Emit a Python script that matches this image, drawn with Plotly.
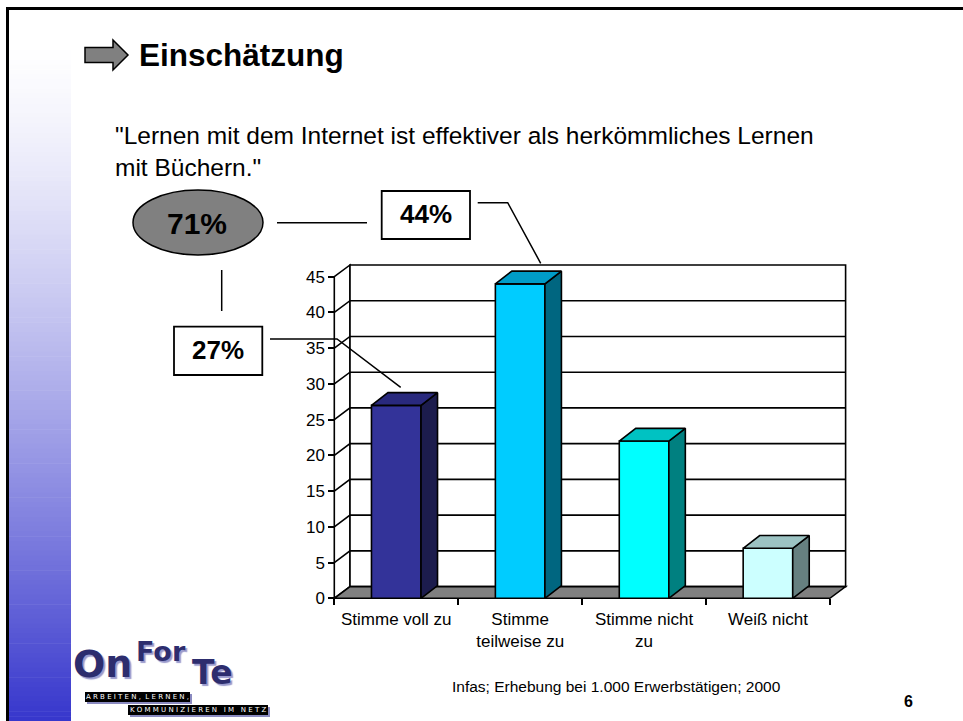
import plotly.graph_objects as go

W, H = 963, 721

# ---------------- data ----------------
categories = ["Stimme voll zu", "Stimme<br>teilweise zu", "Stimme nicht<br>zu", "Weiß nicht"]
values = [27, 44, 22, 7]
front_colors = ["#333399", "#00CCFF", "#00FFFF", "#CCFFFF"]
top_colors = ["#29297D", "#009CC8", "#00C2C2", "#9CC3C3"]
side_colors = ["#1C1C4D", "#006680", "#008080", "#668080"]
y_ticks = [0, 5, 10, 15, 20, 25, 30, 35, 40, 45]
y_max = 45
total_label = "71%"
callout_top = "44%"
callout_left = "27%"
title = "Einschätzung"
quote_line1 = "\"Lernen mit dem Internet ist effektiver als herkömmliches Lernen"
quote_line2 = "mit Büchern.\""
source = "Infas; Erhebung bei 1.000 Erwerbstätigen; 2000"
page_no = "6"

FONT = "Liberation Sans, Arial, sans-serif"

# ---------------- geometry (pixel layout of the 3D plot) ----------------
X0, Y0 = 334.3, 598.3      # pixel of category -0.5 / value 0 (front plane)
PXC, PXU = 123.9, 7.147    # pixels per category / per value unit
xr = [-0.5 - X0 / PXC, -0.5 + (W - X0) / PXC]
yr = [-(H - Y0) / PXU, Y0 / PXU]
DXW, DYW = 15.7 / PXC, 11.7 / PXU   # wall depth
DXB, DYB = 16.5 / PXC, 12.7 / PXU   # bar depth
BW = 0.40
n = len(categories)
xl, xh = -0.5, n - 0.5


def px(x):
    return x / W


def py(y):
    return 1 - y / H


shapes = []

# slide gradient band on the left
N = 140
ytop, ybot = 40, H
c0 = (255, 255, 255)
c1 = (54, 54, 204)
for i in range(N):
    t = ((i + 0.5) / N) ** 1.35
    col = tuple(int(round(c0[k] + (c1[k] - c0[k]) * t)) for k in range(3))
    y_a = ytop + (ybot - ytop) * i / N
    y_b = ytop + (ybot - ytop) * (i + 1) / N + 0.6
    shapes.append(dict(type="rect", xref="paper", yref="paper", layer="below",
                       x0=px(9), x1=px(71), y0=py(y_a), y1=py(min(y_b, H)),
                       line=dict(width=0), fillcolor="rgb(%d,%d,%d)" % col))
# slide border
shapes.append(dict(type="line", xref="paper", yref="paper", x0=px(6), x1=px(W), y0=py(8.5), y1=py(8.5),
                   line=dict(color="black", width=3)))
shapes.append(dict(type="line", xref="paper", yref="paper", x0=px(7.5), x1=px(7.5), y0=py(7), y1=py(H),
                   line=dict(color="black", width=3)))

# 3D chart walls (data coordinates)
LW = 1.6
shapes.append(dict(type="path", xref="x", yref="y", layer="below",
                   path=f"M {xl},0 L {xl},{y_max} L {xl+DXW},{y_max+DYW} L {xl+DXW},{DYW} Z",
                   fillcolor="white", line=dict(color="black", width=LW)))
shapes.append(dict(type="rect", xref="x", yref="y", layer="below",
                   x0=xl + DXW, x1=xh + DXW, y0=DYW, y1=y_max + DYW,
                   fillcolor="white", line=dict(color="black", width=LW)))
for v in y_ticks[1:-1]:
    shapes.append(dict(type="path", xref="x", yref="y", layer="below",
                       path=f"M {xl},{v} L {xl+DXW},{v+DYW} L {xh+DXW},{v+DYW}",
                       line=dict(color="black", width=LW)))
shapes.append(dict(type="path", xref="x", yref="y", layer="below",
                   path=f"M {xl},0 L {xh},0 L {xh+DXW},{DYW} L {xl+DXW},{DYW} Z",
                   fillcolor="#808080", line=dict(color="black", width=LW)))

# callout decorations
def pline(pts, w=1.5):
    p = "M " + " L ".join(f"{px(x)},{py(y)}" for x, y in pts)
    shapes.append(dict(type="path", xref="paper", yref="paper", path=p,
                       line=dict(color="black", width=w)))

shapes.append(dict(type="circle", xref="paper", yref="paper", x0=px(133), x1=px(263), y0=py(255), y1=py(190),
                   fillcolor="#808080", line=dict(color="black", width=1.5)))
shapes.append(dict(type="rect", xref="paper", yref="paper", x0=px(381.7), x1=px(470), y0=py(239), y1=py(191),
                   fillcolor="white", line=dict(color="black", width=1.8)))
shapes.append(dict(type="rect", xref="paper", yref="paper", x0=px(174), x1=px(262.3), y0=py(375), y1=py(326.7),
                   fillcolor="white", line=dict(color="black", width=1.8)))
pline([(277, 222.7), (367, 222.7)])
pline([(477.7, 202.7), (507.7, 202.7), (540.7, 263.3)])
pline([(221.7, 270), (221.7, 311)])
pline([(270, 339), (337, 339), (400.7, 387.3)])

# title arrow
arrow = [(85, 47.5), (113, 47.5), (113, 40), (128, 55), (113, 70), (113, 62.5), (85, 62.5)]
shapes.append(dict(type="path", xref="paper", yref="paper",
                   path="M " + " L ".join(f"{px(x)},{py(y)}" for x, y in arrow) + " Z",
                   fillcolor="#808080", line=dict(color="black", width=1.5)))

# logo bands
shapes.append(dict(type="rect", xref="paper", yref="paper", x0=px(87), x1=px(192), y0=py(704), y1=py(694),
                   fillcolor="#8a8ac0", line=dict(width=0)))
shapes.append(dict(type="rect", xref="paper", yref="paper", x0=px(85), x1=px(190), y0=py(702), y1=py(692),
                   fillcolor="black", line=dict(width=0)))
shapes.append(dict(type="rect", xref="paper", yref="paper", x0=px(130), x1=px(270), y0=py(717), y1=py(707),
                   fillcolor="#8a8ac0", line=dict(width=0)))
shapes.append(dict(type="rect", xref="paper", yref="paper", x0=px(128), x1=px(268), y0=py(715), y1=py(705),
                   fillcolor="black", line=dict(width=0)))

fig = go.Figure()

# front faces of bars
fig.add_trace(go.Bar(x=list(range(n)), y=values, width=BW,
                     marker=dict(color=front_colors, line=dict(color="black", width=LW)),
                     hoverinfo="skip"))
# side and top faces
for i, v in enumerate(values):
    r = i + BW / 2
    l = i - BW / 2
    fig.add_trace(go.Scatter(x=[r, r + DXB, r + DXB, r, r], y=[0, DYB, v + DYB, v, 0],
                             mode="lines", fill="toself", fillcolor=side_colors[i],
                             line=dict(color="black", width=LW), hoverinfo="skip"))
    fig.add_trace(go.Scatter(x=[l, l + DXB, r + DXB, r, l], y=[v, v + DYB, v + DYB, v, v],
                             mode="lines", fill="toself", fillcolor=top_colors[i],
                             line=dict(color="black", width=LW), hoverinfo="skip"))

ann = []


def text(x, y, s, size, bold=False, anchor="left", color="black", family=FONT, shadow=None):
    f = dict(family=family, size=size, color=color)
    if shadow:
        f["shadow"] = shadow
    ann.append(dict(xref="paper", yref="paper", x=px(x), y=py(y), xanchor=anchor, yanchor="middle",
                    text=("<b>%s</b>" % s) if bold else s, showarrow=False, font=f))


text(137, 55, title, 31.5, bold=True)
text(113, 135.5, quote_line1, 24.5)
text(113, 167, quote_line2, 24.5)
text(197, 223.3, total_label, 30, bold=True, anchor="center")
text(426, 214, callout_top, 26, bold=True, anchor="center")
text(218.3, 350, callout_left, 26, bold=True, anchor="center")
text(616, 686, source, 15.5, anchor="center")
text(908, 701, page_no, 16, bold=True, anchor="center")

# logo
LOGO = "DejaVu Sans, sans-serif"
sh = "2px 2px 1px #9a9acc"
text(102.5, 664, "On", 38, bold=True, anchor="center", color="#2d2d6e", family=LOGO, shadow=sh)
text(161, 651, "For", 27, bold=True, anchor="center", color="#2d2d6e", family=LOGO, shadow=sh)
text(212.5, 672, "Te", 33, bold=True, anchor="center", color="#2d2d6e", family=LOGO, shadow=sh)
text(137.5, 697, "A R B E I T E N ,  L E R N E N ,", 7, anchor="center", color="white", family=LOGO)
text(198, 710, "K O M M U N I Z I E R E N   I M   N E T Z", 7, anchor="center", color="white", family=LOGO)

fig.update_layout(
    width=W, height=H,
    margin=dict(l=0, r=0, t=0, b=0, pad=0),
    paper_bgcolor="white", plot_bgcolor="white",
    showlegend=False, hovermode=False,
    shapes=shapes, annotations=ann,
    xaxis=dict(range=xr, anchor="free", position=py(Y0), showgrid=False, zeroline=False, showline=False,
               tickmode="array", tickvals=list(range(n)), ticktext=categories, ticks="",
               tickfont=dict(family=FONT, size=17, color="black"), ticklabelstandoff=9,
               minor=dict(tickmode="array", tickvals=[k - 0.5 for k in range(n + 1)], ticks="outside",
                          ticklen=6, tickwidth=1.6, tickcolor="black", showgrid=False),
               fixedrange=True, automargin=False),
    yaxis=dict(range=yr, anchor="free", position=px(X0), showgrid=False, zeroline=False, showline=False,
               tickmode="array", tickvals=y_ticks, ticks="outside", ticklen=6, tickwidth=1.6,
               tickcolor="black", tickfont=dict(family=FONT, size=17, color="black"),
               fixedrange=True, automargin=False),
)

fig.write_html("out.html")
